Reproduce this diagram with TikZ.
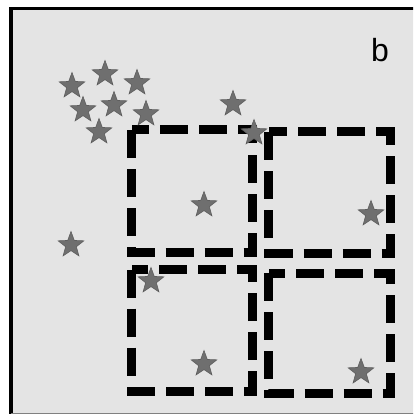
\documentclass[tikz,border=0pt]{standalone}
\usepackage{fontspec}
\setmainfont{Liberation Sans}
\usetikzlibrary{shapes.geometric}

\definecolor{panelgray}{HTML}{E4E4E4}
\definecolor{stargray}{HTML}{6F6F6F}

\tikzset{
    sample/.style={star, star points=5, star point ratio=2.4, minimum size=27pt,
        inner sep=0pt, fill=stargray, draw=stargray!85!black, line width=0.6pt},
    quadrat/.style={line width=9pt, dash pattern=on 28pt off 11pt}
}

\begin{document}
\begin{tikzpicture}[x=1pt, y=-1pt]
    \useasboundingbox (0,0) rectangle (413,414);
    \clip (0,0) rectangle (413,414);
    \fill[white] (0,0) rectangle (413,414);
    \fill[panelgray] (11,8.5) rectangle (460,460);
    \draw[line width=3.5pt] (11,460) -- (11,8.5) -- (460,8.5);
    \draw[gray, line width=1pt] (11,413.5) -- (460,413.5);

    % panel letter
    \node (lbl) at (380,50) {\fontsize{32}{38}\selectfont b};

    % sampling quadrats
    \draw[quadrat] (131.5,130) rectangle (252,252);
    \draw[quadrat] (268.5,132) rectangle (390.5,253);
    \draw[quadrat] (131.5,269.5) rectangle (252,391);
    \draw[quadrat] (268.5,273) rectangle (390.5,393);

    % cluster in the corner
    \node[sample] (s1) at (72,86) {};
    \node[sample] (s2) at (105,74) {};
    \node[sample] (s3) at (137,83) {};
    \node[sample] (s4) at (83,110) {};
    \node[sample] (s5) at (114,105) {};
    \node[sample] (s6) at (146,114) {};
    \node[sample] (s7) at (99,132) {};
    \node[sample] (s8) at (233,104) {};
    \node[sample] (s9) at (254,133) {};

    % scattered
    \node[sample] (s10) at (204,205) {};
    \node[sample] (s11) at (371,214) {};
    \node[sample] (s12) at (71,245) {};
    \node[sample] (s13) at (151,281) {};
    \node[sample] (s14) at (204,364) {};
    \node[sample] (s15) at (361,372) {};
\end{tikzpicture}
\end{document}
